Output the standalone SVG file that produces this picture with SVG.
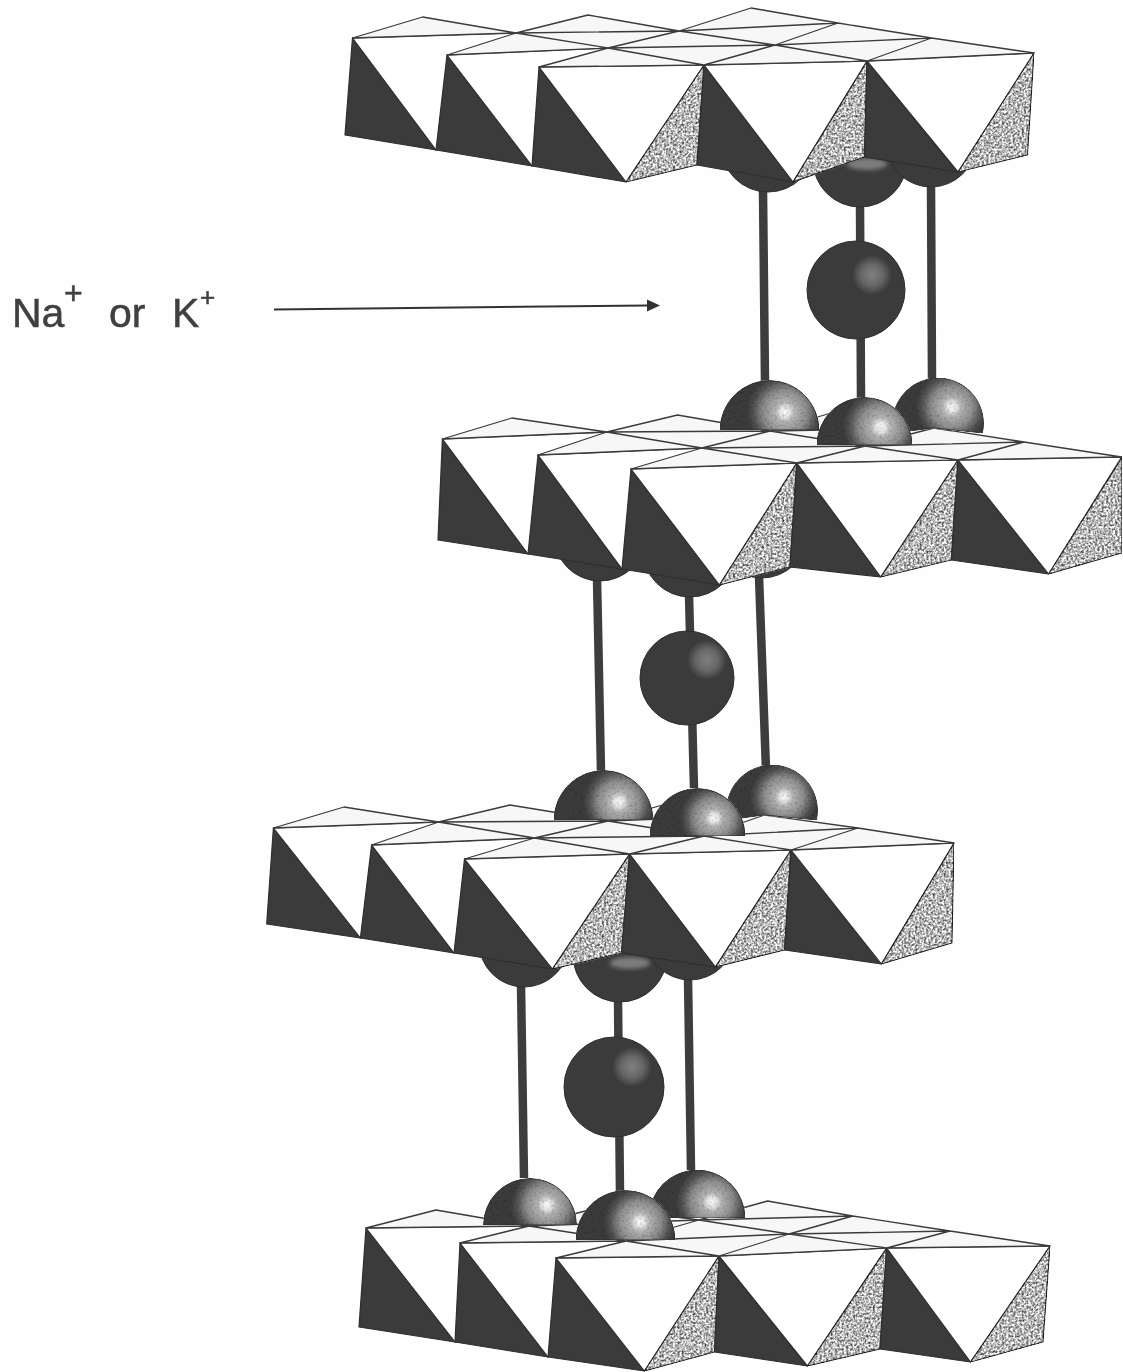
<svg xmlns="http://www.w3.org/2000/svg" xmlns:xlink="http://www.w3.org/1999/xlink" width="1123" height="1372" viewBox="0 0 1123 1372">
<style>
.d{fill:#3b3b3b;stroke:#2e2e2e;stroke-width:1.2;stroke-linejoin:round}
.w{fill:#fff;stroke:#2e2e2e;stroke-width:1.2;stroke-linejoin:round}
.g{fill:#fff;stroke:#2e2e2e;stroke-width:1.2;stroke-linejoin:round;filter:url(#speckle)}
.t{fill:#f7f7f7;stroke:none}
.l{fill:none;stroke:#3a3a3a;stroke-width:1.3;stroke-linejoin:round}
.stick{stroke:#3d3d3d;stroke-width:8.500;fill:none}
.cap{fill:#3b3b3b;stroke:#2e2e2e;stroke-width:1}
.s{stroke:#2e2e2e;stroke-width:1;filter:url(#grain)}
.b{stroke:#2e2e2e;stroke-width:1}
.lab{font-family:"Liberation Sans",Arial,sans-serif;fill:#3f3f3f;stroke:#3f3f3f;stroke-width:.5}
</style>
<defs>
<filter id="speckle" x="0" y="0" width="100%" height="100%" color-interpolation-filters="sRGB">
<feTurbulence type="fractalNoise" baseFrequency="0.45" numOctaves="2" seed="4" result="n"/>
<feColorMatrix in="n" type="matrix" values="1.5 0 0 0 -0.03 1.5 0 0 0 -0.03 1.5 0 0 0 -0.03 0 0 0 0 1" result="m"/>
<feBlend in="SourceGraphic" in2="m" mode="multiply" result="b"/>
<feComposite in="b" in2="SourceGraphic" operator="in"/>
</filter>
<filter id="grain" x="0" y="0" width="100%" height="100%" color-interpolation-filters="sRGB">
<feTurbulence type="fractalNoise" baseFrequency="0.4" numOctaves="2" seed="9" result="n"/>
<feColorMatrix in="n" type="matrix" values=".5 0 0 0 .74 .5 0 0 0 .74 .5 0 0 0 .74 0 0 0 0 1" result="m"/>
<feBlend in="SourceGraphic" in2="m" mode="multiply" result="b"/>
<feComposite in="b" in2="SourceGraphic" operator="in"/>
</filter>
<filter id="soft" x="0" y="0" width="1123" height="1372" filterUnits="userSpaceOnUse">
<feGaussianBlur stdDeviation="0.5"/>
</filter>
<filter id="softer" x="-50%" y="-50%" width="200%" height="200%"><feGaussianBlur stdDeviation="2"/></filter>
<radialGradient id="hi"><stop offset="0" stop-color="#fafafa"/><stop offset=".13" stop-color="#e6e6e6"/><stop offset=".26" stop-color="#b4b4b4"/><stop offset=".58" stop-color="#8c8c8c"/><stop offset=".82" stop-color="#545454"/><stop offset="1" stop-color="#3b3b3b"/></radialGradient>
<radialGradient id="dim"><stop offset="0" stop-color="#808080"/><stop offset=".55" stop-color="#666"/><stop offset="1" stop-color="#3b3b3b"/></radialGradient>
<radialGradient id="h21" gradientUnits="userSpaceOnUse" cx="785" cy="412" r="38" xlink:href="#hi"/>
<radialGradient id="h22" gradientUnits="userSpaceOnUse" cx="881" cy="427" r="38" xlink:href="#hi"/>
<radialGradient id="h23" gradientUnits="userSpaceOnUse" cx="952" cy="407" r="36" xlink:href="#hi"/>
<radialGradient id="h31" gradientUnits="userSpaceOnUse" cx="619" cy="802" r="36" xlink:href="#hi"/>
<radialGradient id="h32" gradientUnits="userSpaceOnUse" cx="714" cy="818" r="34" xlink:href="#hi"/>
<radialGradient id="h33" gradientUnits="userSpaceOnUse" cx="784" cy="797" r="34" xlink:href="#hi"/>
<radialGradient id="h41" gradientUnits="userSpaceOnUse" cx="547" cy="1205" r="36" xlink:href="#hi"/>
<radialGradient id="h42" gradientUnits="userSpaceOnUse" cx="640" cy="1222" r="36" xlink:href="#hi"/>
<radialGradient id="h43" gradientUnits="userSpaceOnUse" cx="712" cy="1202" r="36" xlink:href="#hi"/>
<radialGradient id="b1" gradientUnits="userSpaceOnUse" cx="872" cy="275" r="20" xlink:href="#dim"/>
<radialGradient id="b2" gradientUnits="userSpaceOnUse" cx="707" cy="660" r="20" xlink:href="#dim"/>
<radialGradient id="b3" gradientUnits="userSpaceOnUse" cx="632" cy="1067" r="20" xlink:href="#dim"/>
</defs>
<rect width="1123" height="1372" fill="#fefefe"/>
<g id="scene" filter="url(#soft)">

<g id="connectors">
<path class="stick" d="M763 190L765 382M860 205L861 398M931 185L932 380"/>
<path class="stick" d="M597 578L601 772M689 595L694 788M759 576L766 770"/>
<path class="stick" d="M521 985L524 1178M618 1000L620 1194M688 978L691 1170"/>
</g>

<g id="ion-1"><circle class="b" cx="856" cy="290" r="49" fill="url(#b1)"/></g>
<g id="ion-2"><circle class="b" cx="687" cy="678" r="47" fill="url(#b2)"/></g>
<g id="ion-3"><circle class="b" cx="614" cy="1087" r="50" fill="url(#b3)"/></g>

<g id="caps-1">
<circle class="cap" cx="768" cy="145" r="47"/><circle class="cap" cx="860" cy="160" r="47"/><circle class="cap" cx="931" cy="142" r="45"/>
<ellipse cx="867" cy="164" rx="20" ry="6" fill="#7d7d7d" filter="url(#softer)"/>
</g>
<g id="caps-2">
<circle class="cap" cx="600" cy="535" r="46"/><circle class="cap" cx="690" cy="550" r="47"/><circle class="cap" cx="762" cy="533" r="45"/>
</g>
<g id="caps-3">
<circle class="cap" cx="524" cy="942" r="45"/><circle class="cap" cx="620" cy="955" r="47"/><circle class="cap" cx="690" cy="935" r="45"/>
<ellipse cx="630" cy="963" rx="20" ry="6" fill="#7d7d7d" filter="url(#softer)"/>
</g>

<g id="layer-1">
<polygon class="d" points="352.5,38 345,135 436,150"/>
<polygon class="w" points="352.5,38 516,33 436,150"/>
<polygon class="d" points="447,55 436,150 532,166"/>
<polygon class="w" points="447,55 608,48 532,166"/>
<polygon class="d" points="539,67 532,166 626,182"/>
<polygon class="w" points="539,67 704,65 626,182"/>
<polygon class="g" points="704,65 626,182 697,165"/>
<polygon class="d" points="704,65 697,165 793,182"/>
<polygon class="w" points="704,65 867,61 793,182"/>
<polygon class="g" points="867,61 793,182 864.5,157"/>
<polygon class="d" points="867,61 864.5,157 958,172"/>
<polygon class="w" points="867,61 1034,53 958,172"/>
<polygon class="g" points="1034,53 958,172 1027.5,155"/>
<polygon class="t" points="352.5,38 422.6,17 516,33 588,15 679,31 751,8 838,23 931.5,38 1034,53 867,61 704,65 539,67 608,48 447,55 516,33"/>
<path class="l" d="M352.5 38L422.6 17L516 33ZM516 33L588 15L679 31ZM679 31L751 8L838 23ZM838 23L931.5 38L775 45ZM931.5 38L1034 53L867 61ZM516 33L447 55L608 48ZM608 48L679 31L775 45ZM608 48L539 67L704 65ZM775 45L704 65L867 61Z"/>
</g>

<g id="layer-2">
<polygon class="d" points="442.4,439 438,540 528,554"/>
<polygon class="w" points="442.4,439 606.8,432 528,554"/>
<polygon class="d" points="538,455 528,554 622,569"/>
<polygon class="w" points="538,455 701.8,448 622,569"/>
<polygon class="d" points="631,469 622,569 719.4,585"/>
<polygon class="w" points="631,469 796.8,463 719.4,585"/>
<polygon class="g" points="796.8,463 719.4,585 790,567"/>
<polygon class="d" points="796.8,463 790,567 880.7,577"/>
<polygon class="w" points="796.8,463 958,460 880.7,577"/>
<polygon class="g" points="958,460 880.7,577 951.4,560"/>
<polygon class="d" points="958,460 951.4,560 1048.6,574"/>
<polygon class="w" points="958,460 1121.6,457 1048.6,574"/>
<polygon class="g" points="1122,457 1048.6,574 1122,553"/>
<polygon class="t" points="442.4,439 511.8,418 606.8,432 677.5,415 770,431 848,408 933.8,428 1024,442 1121.6,457 958,460 796.8,463 631,469 701.8,448 538,455 606.8,432"/>
<path class="l" d="M442.4 439L511.8 418L606.8 432ZM606.8 432L677.5 415L770 431ZM770 431L848 408L933.8 428ZM933.8 428L1024 442L865 446ZM1024 442L1121.6 457L958 460ZM606.8 432L538 455L701.8 448ZM701.8 448L770 431L865 446ZM701.8 448L631 469L796.8 463ZM865 446L796.8 463L958 460Z"/>
</g>
<g id="atoms-2">
<path class="s" fill="url(#h21)" d="M720 430A49.500 49.500 0 0 1 819 430Z"/>
<path class="s" fill="url(#h23)" d="M893.500 433A45.500 45.500 0 1 1 982.500 433L934 428Z"/>
<path class="s" fill="url(#h22)" d="M817 445A47.500 47.500 0 0 1 912 445Z"/>
</g>

<g id="layer-3">
<polygon class="d" points="273.4,828 266.7,924 360.4,938"/>
<polygon class="w" points="273.4,828 438.6,822 360.4,938"/>
<polygon class="d" points="371.6,845 360.4,938 454,953"/>
<polygon class="w" points="371.6,845 534.5,838 454,953"/>
<polygon class="d" points="464.5,859 454,953 552.4,969"/>
<polygon class="w" points="464.5,859 629.6,854 552.4,969"/>
<polygon class="g" points="629.6,854 552.4,969 621.6,953"/>
<polygon class="d" points="629.6,854 621.6,953 715.4,967"/>
<polygon class="w" points="629.6,854 791,850 715.4,967"/>
<polygon class="g" points="791,850 715.4,967 784.6,950"/>
<polygon class="d" points="791,850 784.6,950 881.4,964"/>
<polygon class="w" points="791,850 954,843 881.4,964"/>
<polygon class="g" points="954,843 881.4,964 952,943"/>
<polygon class="t" points="273.4,828 344,807 438.6,822 510,805 608,821 686,798 764.5,815 858,828 954,843 791,850 629.6,854 464.5,859 534.5,838 371.6,845 438.6,822"/>
<path class="l" d="M273.4 828L344 807L438.6 822ZM438.6 822L510 805L608 821ZM608 821L686 798L764.5 815ZM764.5 815L858 828L704 836ZM858 828L954 843L791 850ZM438.6 822L371.6 845L534.5 838ZM534.5 838L608 821L704 836ZM534.5 838L464.5 859L629.6 854ZM704 836L629.6 854L791 850Z"/>
</g>
<g id="atoms-3">
<path class="s" fill="url(#h31)" d="M554 820A49.500 49.500 0 0 1 653 820Z"/>
<path class="s" fill="url(#h33)" d="M727.500 820A45.500 45.500 0 1 1 816.500 820L764 815Z"/>
<path class="s" fill="url(#h32)" d="M650 836A47.500 47.500 0 0 1 745 836Z"/>
</g>

<g id="layer-4">
<polygon class="d" points="366,1228 359,1327 455,1342"/>
<polygon class="w" points="366,1228 529,1226 455,1342"/>
<polygon class="d" points="460,1243 455,1342 548,1357"/>
<polygon class="w" points="460,1243 626,1241 548,1357"/>
<polygon class="d" points="556,1258 548,1357 644.4,1371"/>
<polygon class="w" points="556,1258 719,1256 644.4,1371"/>
<polygon class="g" points="719,1256 644.4,1371 714.6,1352"/>
<polygon class="d" points="719,1256 714.6,1352 807.4,1366"/>
<polygon class="w" points="719,1256 886.7,1248 807.4,1366"/>
<polygon class="g" points="886.7,1248 807.4,1366 880,1349"/>
<polygon class="d" points="886.7,1248 880,1349 970.5,1362"/>
<polygon class="w" points="886.7,1248 1050,1246 970.5,1362"/>
<polygon class="g" points="1050,1246 970.5,1362 1043,1342"/>
<polygon class="t" points="366,1228 436,1210 529,1226 600,1207 699,1220 767.6,1201 852.7,1216 950,1231 1050,1246 886.7,1248 719,1256 556,1258 626,1241 460,1243 529,1226"/>
<path class="l" d="M366 1228L436 1210L529 1226ZM529 1226L600 1207L699 1220ZM699 1220L767.6 1201L852.7 1216ZM852.7 1216L950 1231L789 1234ZM950 1231L1050 1246L886.7 1248ZM529 1226L460 1243L626 1241ZM626 1241L699 1220L789 1234ZM626 1241L556 1258L719 1256ZM789 1234L719 1256L886.7 1248Z"/>
</g>
<g id="atoms-4">
<path class="s" fill="url(#h41)" d="M483.500 1225A46.500 46.500 0 0 1 576.500 1225Z"/>
<path class="s" fill="url(#h43)" d="M649 1218A48 48 0 0 1 745 1218Z"/>
<path class="s" fill="url(#h42)" d="M576 1240A49 49 0 0 1 675 1240Z"/>
</g>

<g id="pointer">
<path d="M274 309.500L648 305.500" fill="none" stroke="#333" stroke-width="2"/>
<polygon points="660,305.500 647,299.500 647,311.500" fill="#333"/>
</g>

<g id="label">
<text class="lab" x="12" y="327" font-size="41">Na</text>
<text class="lab" x="64" y="304" font-size="32">+</text>
<text class="lab" x="109" y="327" font-size="41">or</text>
<text class="lab" x="172" y="327" font-size="41">K</text>
<text class="lab" x="200" y="306" font-size="26">+</text>
</g>
</g>
</svg>
